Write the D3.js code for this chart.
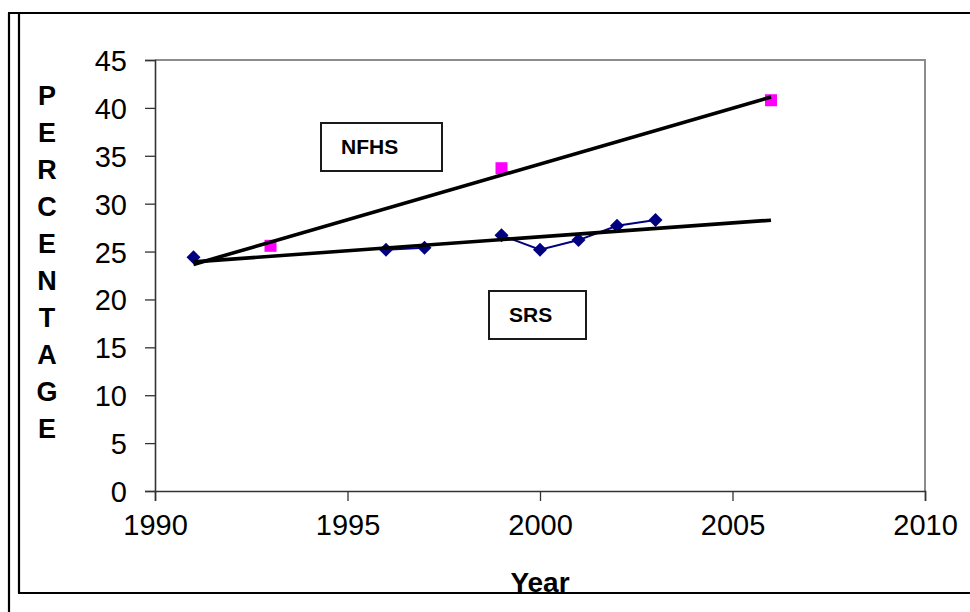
<!DOCTYPE html>
<html>
<head>
<meta charset="utf-8">
<script src="https://cdn.jsdelivr.net/npm/d3@7"></script>
<style>
  html, body { margin: 0; padding: 0; background: #fff; }
  svg { display: block; font-family: "Liberation Sans", Arial, sans-serif; }
</style>
</head>
<body>
<svg id="chart" width="970" height="612"></svg>
<script>
// ---- data ----
const srsYears  = [1991, 1992, 1993, 1994, 1995, 1996, 1997, 1998, 1999, 2000, 2001, 2002, 2003];
const srsValues = [24.4, null, null, null, null, 25.2, 25.4, null, 26.7, 25.2, 26.2, 27.7, 28.3];
const nfhsYears  = [1993, 1999, 2006];
const nfhsValues = [25.6, 33.7, 40.8];
const trendRange = [1991, 2006];
const xTicks = [1990, 1995, 2000, 2005, 2010];
const yTicks = [0, 5, 10, 15, 20, 25, 30, 35, 40, 45];
const yTitle = "PERCENTAGE";
const xTitle = "Year";
const labels = ["NFHS", "SRS"];

// ---- layout ----
const svg = d3.select("#chart");
const x = d3.scaleLinear().domain([1990, 2010]).range([155, 925]);
const y = d3.scaleLinear().domain([0, 45]).range([491, 60]);

// outer frame lines
const frame = svg.append("g").attr("stroke", "#000").attr("stroke-width", 2.2).attr("fill", "none");
frame.append("line").attr("x1", 9).attr("y1", 13).attr("x2", 9).attr("y2", 612);
frame.append("line").attr("x1", 8).attr("y1", 13).attr("x2", 970).attr("y2", 13);
frame.append("line").attr("x1", 19).attr("y1", 13).attr("x2", 19).attr("y2", 593);
frame.append("line").attr("x1", 18).attr("y1", 593).attr("x2", 970).attr("y2", 593);

// plot-area border (top & right)
svg.append("path")
  .attr("d", `M${x(1990)},${y(45)}H${x(2010)}V${y(0)}`)
  .attr("fill", "none").attr("stroke", "#8c8c8c").attr("stroke-width", 2);

// axes
const xAxis = d3.axisBottom(x).tickValues(xTicks).tickFormat(d3.format("d")).tickSize(10).tickPadding(10);
const yAxis = d3.axisLeft(y).tickValues(yTicks).tickSize(10).tickPadding(18);

const gx = svg.append("g").attr("transform", `translate(0,${y(0)})`).call(xAxis);
const gy = svg.append("g").attr("transform", `translate(${x(1990)},0)`).call(yAxis);
[gx, gy].forEach(g => {
  g.select(".domain").attr("stroke", "#333").attr("stroke-width", 1.6);
  g.selectAll(".tick line").attr("stroke", "#333").attr("stroke-width", 1.3);
  g.selectAll(".tick text").attr("fill", "#000").style("font-size", "29px")
    .style("font-family", "'Liberation Sans', Arial, sans-serif");
});
gx.selectAll(".tick text").attr("dy", "0.82em");
gy.selectAll(".tick text").attr("dy", "0.36em");

// SRS series line (with gaps) and markers
const srs = srsYears.map((yr, i) => ({ x: yr, v: srsValues[i] }));
const line = d3.line().defined(d => d.v != null).x(d => x(d.x)).y(d => y(d.v));
svg.append("path").datum(srs).attr("d", line)
  .attr("fill", "none").attr("stroke", "#000080").attr("stroke-width", 2);

svg.append("g").selectAll("path").data(srs.filter(d => d.v != null)).join("path")
  .attr("d", d3.symbol().type(d3.symbolDiamond2).size(125))
  .attr("transform", d => `translate(${x(d.x)},${y(d.v)})`)
  .attr("fill", "#000080");

// NFHS markers
const nfhs = nfhsYears.map((yr, i) => ({ x: yr, v: nfhsValues[i] }));
svg.append("g").selectAll("rect").data(nfhs).join("rect")
  .attr("x", d => x(d.x) - 6).attr("y", d => y(d.v) - 6)
  .attr("width", 12).attr("height", 12)
  .attr("fill", "#ff00ff");

// linear trend lines
function fit(pts) {
  const mx = d3.mean(pts, p => p.x), my = d3.mean(pts, p => p.v);
  const sxy = d3.sum(pts, p => (p.x - mx) * (p.v - my));
  const sxx = d3.sum(pts, p => (p.x - mx) ** 2);
  const b = sxy / sxx, a = my - b * mx;
  return trendRange.map(t => ({ x: t, v: a + b * t }));
}
const trendLine = d3.line().x(d => x(d.x)).y(d => y(d.v));
[fit(nfhs), fit(srs.filter(d => d.v != null))].forEach(t => {
  svg.append("path").datum(t).attr("d", trendLine)
    .attr("fill", "none").attr("stroke", "#000").attr("stroke-width", 3.6);
});

// label boxes
const boxes = [
  { text: labels[0], x: 321, y: 123, w: 121, h: 48, tx: 341, ty: 154 },
  { text: labels[1], x: 489, y: 291, w: 97, h: 48, tx: 509, ty: 322 }
];
boxes.forEach(b => {
  svg.append("rect").attr("x", b.x).attr("y", b.y).attr("width", b.w).attr("height", b.h)
    .attr("fill", "#fff").attr("stroke", "#1a1a1a").attr("stroke-width", 2);
  svg.append("text").attr("x", b.tx).attr("y", b.ty).text(b.text)
    .style("font-size", "21px").style("font-weight", "bold").attr("fill", "#000");
});

// y title: vertical stacked letters
svg.append("g").selectAll("text").data(yTitle.split("")).join("text")
  .attr("x", 47).attr("y", (d, i) => 95 + i * 37)
  .attr("dy", "0.36em").attr("text-anchor", "middle")
  .style("font-size", "27px").style("font-weight", "bold").text(d => d);

// x title
svg.append("text").attr("x", 540).attr("y", 592).attr("text-anchor", "middle")
  .style("font-size", "28px").style("font-weight", "bold").text(xTitle);
</script>
</body>
</html>
